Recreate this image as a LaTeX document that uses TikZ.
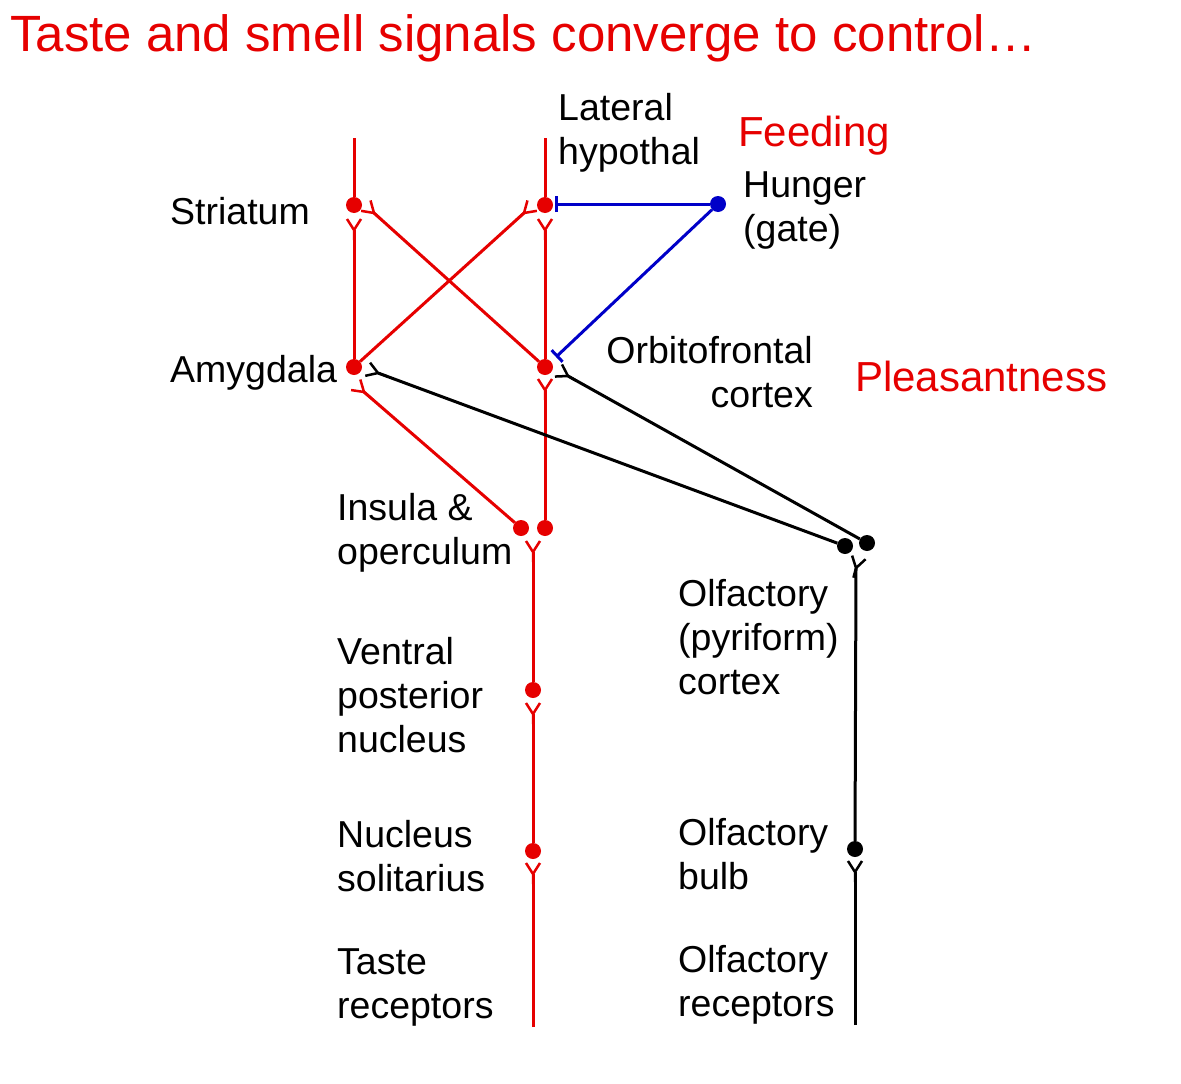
\documentclass[tikz,border=0pt]{standalone}
\usepackage{fontspec}
\setmainfont{Liberation Sans}
\usetikzlibrary{arrows.meta}
\definecolor{tred}{RGB}{230,0,0}
\definecolor{hblue}{RGB}{0,0,200}
\tikzstyle{lbl} = [anchor=west, align=left, font=\fontsize{37.5}{44}\selectfont, inner sep=0pt, yshift=-3pt]
\tikzstyle{hdr} = [anchor=west, font=\fontsize{42}{44}\selectfont, text=tred, inner sep=0pt, yshift=-3pt]
\tikzstyle{axon} = [line width=3pt]
\tikzstyle{soma} = [circle, fill, inner sep=0pt, minimum size=16pt]
% Y shaped terminal at #1 opening towards angle #2
\newcommand{\term}[3]{\draw[#3, line width=2.5pt, rotate around={#2:#1}] #1 -- ++(-10,0) #1 -- ++(11,7) #1 -- ++(11,-7);}
\begin{document}
\begin{tikzpicture}[x=1pt,y=-1pt]
\useasboundingbox (0,0) rectangle (1181,1084);
\node[anchor=west, font=\fontsize{51}{56}\selectfont, text=tred, inner sep=0pt] (title) at (10,38) {Taste and smell signals converge to control\dots};

% cell bodies
\node (str) [soma, tred] at (354,205) {};
\node (lh) [soma, tred] at (545,205) {};
\node (amy) [soma, tred] at (354,367) {};
\node (ofc) [soma, tred] at (545,367) {};
\node (insA) [soma, tred] at (521,528) {};
\node (insB) [soma, tred] at (545,528) {};
\node (vpn) [soma, tred] at (533,690) {};
\node (nts) [soma, tred] at (533,851) {};
\node (pirA) [soma, black] at (845,546) {};
\node (pirB) [soma, black] at (867,543) {};
\node (bulb) [soma, black] at (855,849) {};
\node (hun) [soma, hblue] at (718,204) {};

% terminals
\coordinate (tStr) at (354,230);
\coordinate (tLh) at (545,230);
\coordinate (tOfc) at (545,390);
\coordinate (tIns) at (533,552);
\coordinate (tVpn) at (533,714);
\coordinate (tNts) at (533,874);
\coordinate (tPir) at (856,568);
\coordinate (tBulb) at (855,872);
\coordinate (xStr) at (374,213);
\coordinate (xLh) at (524,213);
\coordinate (bAmy) at (378,373);
\coordinate (bOfc) at (568,376);
\coordinate (rAmy) at (364,392);
\coordinate (iLh) at (555,204);
\coordinate (iOfc) at (556,357);
\coordinate (topS) at (354,138);
\coordinate (topL) at (545,138);
\coordinate (tasteR) at (533,1027);
\coordinate (olfR) at (855,1025);

% taste pathway
\draw[axon, tred] (topS) -- (str);
\draw[axon, tred] (topL) -- (lh);
\draw[axon, tred] (amy) -- (tStr);
\draw[axon, tred] (ofc) -- (tLh);
\draw[axon, tred] (ofc) -- (xStr);
\draw[axon, tred] (amy) -- (xLh);
\draw[axon, tred] (insB) -- (tOfc);
\draw[axon, tred] (insA) -- (rAmy);
\draw[axon, tred] (vpn) -- (tIns);
\draw[axon, tred] (nts) -- (tVpn);
\draw[axon, tred] (tasteR) -- (tNts);
\foreach \p/\a in {tStr/90, tLh/90, tOfc/90, tIns/90, tVpn/90, tNts/90, xStr/138, xLh/42, rAmy/139}
  \term{(\p)}{\a}{tred};

% smell pathway
\draw[axon, black] (olfR) -- (tBulb);
\draw[axon, black] (bulb) -- (tPir);
\draw[axon, black] (pirA) -- (bAmy);
\draw[axon, black] (pirB) -- (bOfc);
\foreach \p/\a in {tBulb/90, tPir/75, bAmy/160, bOfc/150}
  \term{(\p)}{\a}{black};

% hunger gate
\draw[axon, hblue, -{Bar[width=16pt]}] (hun) -- (iLh);
\draw[axon, hblue, -{Bar[width=16pt]}] (hun) -- (iOfc);

% labels
\node (lStr) [lbl] at (170,208) {Striatum};
\node (lLh) [lbl] at (558,130) {Lateral\\hypothal};
\node (lFeed) [hdr] at (738,133) {Feeding};
\node (lHun) [lbl] at (743,207) {Hunger\\(gate)};
\node (lAmy) [lbl] at (170,370) {Amygdala};
\node (lOfc) [lbl, anchor=east, align=right] at (813,369) {Orbitofrontal\\cortex};
\node (lPl) [hdr] at (855,373) {Pleasantness};
\node (lIns) [lbl] at (337,530) {Insula \&\\operculum};
\node (lPir) [lbl] at (678,634) {Olfactory\\(pyriform)\\cortex};
\node (lVpn) [lbl] at (337,692) {Ventral\\posterior\\nucleus};
\node (lNts) [lbl] at (337,853) {Nucleus\\solitarius};
\node (lBulb) [lbl] at (678,851) {Olfactory\\bulb};
\node (lTaste) [lbl] at (337,984) {Taste\\receptors};
\node (lOlf) [lbl] at (678,982) {Olfactory\\receptors};
\end{tikzpicture}
\end{document}
